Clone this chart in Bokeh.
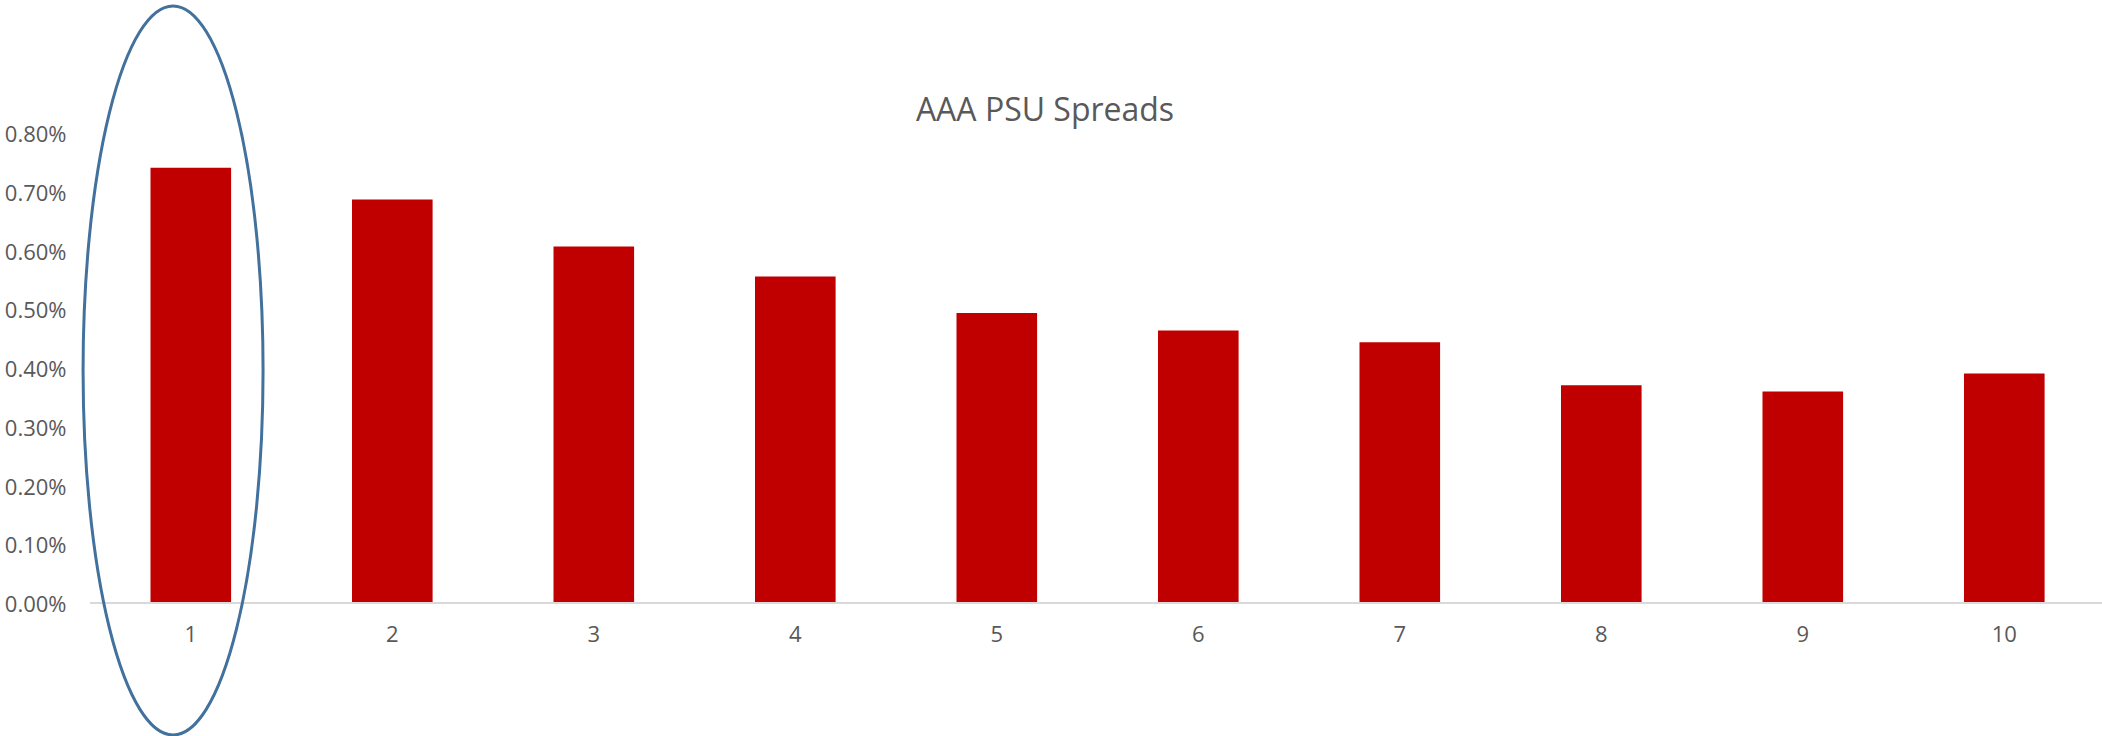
from bokeh.plotting import figure
from bokeh.models import Range1d, FixedTicker, PrintfTickFormatter, Label, ColumnDataSource
from bokeh.core.properties import value
from bokeh.embed import file_html
from bokeh.resources import INLINE

# ---- data ----
categories = [1, 2, 3, 4, 5, 6, 7, 8, 9, 10]
category_labels = ["1", "2", "3", "4", "5", "6", "7", "8", "9", "10"]
spreads_pct = [0.741, 0.687, 0.607, 0.556, 0.494, 0.464, 0.444, 0.371, 0.360, 0.391]
y_ticks = [0.0, 0.1, 0.2, 0.3, 0.4, 0.5, 0.6, 0.7, 0.8]
title_text = "AAA PSU Spreads"

# ---- highlight ellipse (annotation around the first bar) ----
ellipse_x = 0.912
ellipse_y = 0.396
ellipse_w_px = 180
ellipse_h_px = 729

GRAY = "#595959"
FONT = "Open Sans"

p = figure(width=2102, height=736, output_backend="svg", toolbar_location=None,
           x_range=Range1d(0.4526, 10.4874), y_range=Range1d(-0.2272, 1.0259),
           min_border_left=80, min_border_right=0, min_border_top=0, min_border_bottom=0,
           background_fill_color="white", border_fill_color="white")
p.outline_line_color = None
p.xgrid.visible = False
p.ygrid.visible = False
p.xaxis.visible = False

yax = p.yaxis[0]
yax.ticker = FixedTicker(ticks=y_ticks)
yax.formatter = PrintfTickFormatter(format="%.2f%%")
yax.axis_line_color = None
yax.major_tick_line_color = None
yax.minor_tick_line_color = None
yax.major_tick_in = 0
yax.major_tick_out = 0
yax.major_label_standoff = 14
yax.major_label_text_font = FONT
yax.major_label_text_font_size = "22px"
yax.major_label_text_color = GRAY

src = ColumnDataSource(dict(x=categories, top=spreads_pct, label=category_labels,
                            zero=[0] * len(categories)))

p.vbar(x="x", top="top", bottom=0, width=0.4, source=src,
       fill_color="#C00000", line_color=None)

# category axis baseline
p.segment(x0=[categories[0] - 0.5], y0=[0], x1=[categories[-1] + 0.5], y1=[0],
          line_color="#D9D9D9", line_width=2)

# category labels
p.text(x="x", y="zero", text="label", source=src, y_offset=31,
       text_align="center", text_baseline="middle",
       text_font=value(FONT), text_font_size="22px", text_color=GRAY)

# highlight ellipse
p.ellipse(x=[ellipse_x], y=[ellipse_y], width=ellipse_w_px, height=ellipse_h_px,
          width_units="screen", height_units="screen",
          fill_color=None, line_color="#41719C", line_width=3)

# title
p.add_layout(Label(x=964.5, y=627.7, x_units="screen", y_units="screen",
                   text=title_text, text_align="center", text_baseline="alphabetic",
                   text_font=FONT, text_font_size="32px", text_color=GRAY))

open("out.html", "w").write(file_html(p, INLINE))
